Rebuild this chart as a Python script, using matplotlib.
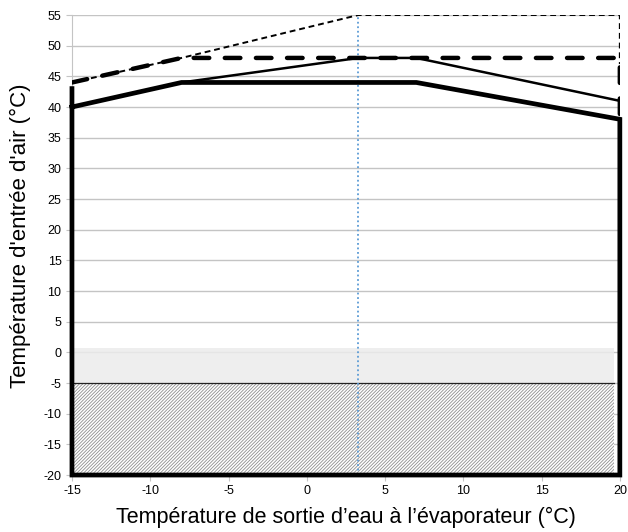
import matplotlib
matplotlib.use("Agg")
import matplotlib.pyplot as plt

plt.rcParams['font.family'] = ['Liberation Sans', 'DejaVu Sans']
plt.rcParams['axes.unicode_minus'] = False
plt.rcParams['hatch.color'] = '#8f8f8f'
plt.rcParams['hatch.linewidth'] = 0.6

# Data
outer_x = [-15, -8, 7, 20, 20, -15, -15]
outer_y = [40, 44, 44, 38, -20, -20, 43]
thin_x = [-8, 3.3, 7, 20]
thin_y = [44, 48, 48, 41]
thickdash_x = [-15, -8, 20, 20]
thickdash_y = [44, 48, 48, 38]
thindash_x = [-15, -8, 3.3, 20, 20]
thindash_y = [44, 48, 55, 55, 47]
vline_x = 3.3
band_x = [-15, 19.6]
band_y = [-5, 0.7]
hatch_y = [-20, -5]
xticks = [-15, -10, -5, 0, 5, 10, 15, 20]
yticks = list(range(-20, 56, 5))

fig = plt.figure(figsize=(6.28, 5.32), dpi=100)
ax = fig.add_axes([0.1146, 0.1071, 0.8724, 0.8647])

ax.set_xlim(-15, 20)
ax.set_ylim(-20, 55)
for yv in yticks:
    ax.axhline(yv, color='#c4c4c4', lw=1.0, zorder=0)

# gray band
ax.fill_between(band_x, band_y[0], band_y[1], color='#ebebeb', alpha=0.85, lw=0, zorder=1)
# hatched region
ax.fill_between(band_x, hatch_y[0], hatch_y[1], facecolor='white', edgecolor='#8f8f8f',
                hatch='//////////', lw=0, zorder=1.5)
ax.plot(band_x, [hatch_y[1], hatch_y[1]], color='#222222', lw=0.9, zorder=2)

# blue dotted vertical
ax.plot([vline_x, vline_x], [-20, 55], color='#5b9bd5', lw=1.3, ls=(0, (1, 1.5)), zorder=2)

# lines
ax.plot(thindash_x, thindash_y, color='black', lw=1.4, ls=(0, (3, 2)), zorder=3)
ax.plot(thickdash_x, thickdash_y, color='black', lw=3.2, ls=(0, (3.5, 3.5)),
        dash_capstyle='round', zorder=3)
ax.plot(thin_x, thin_y, color='black', lw=1.8, zorder=3)
ax.plot(outer_x, outer_y, color='black', lw=3.4, solid_joinstyle='miter', zorder=4, clip_on=False)

ax.set_xticks(xticks)
ax.set_yticks(yticks)
ax.tick_params(axis='both', labelsize=9, color='#c4c4c4', length=4, direction='out')
for s in ['top', 'right']:
    ax.spines[s].set_visible(False)
for s in ['left', 'bottom']:
    ax.spines[s].set_color('#c4c4c4')

ax.set_xlabel("Température de sortie d’eau à l’évaporateur (°C)", fontsize=15.5, labelpad=7)
ax.set_ylabel("Température d'entrée d'air (°C)", fontsize=16)
ax.yaxis.set_label_coords(-0.075, 0.52)

fig.savefig("out.png", dpi=100)
